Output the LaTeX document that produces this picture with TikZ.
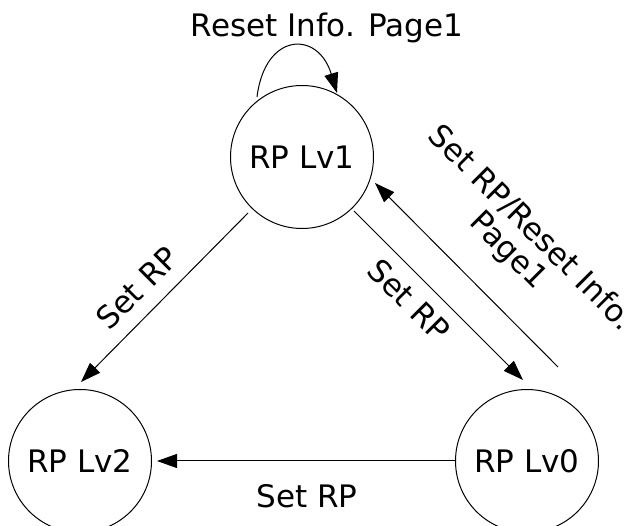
\documentclass[tikz,border=0pt]{standalone}
\usepackage{fontspec}
\setmainfont{DejaVu Sans}
\usetikzlibrary{arrows.meta,calc}
\begin{document}
\begin{tikzpicture}[x=1pt,y=-1pt,
  state/.style={draw,circle,minimum size=143pt,inner sep=0pt,line width=1pt,font=\fontsize{31}{32}\selectfont},
  edge/.style={line width=1pt,-{Triangle[length=20pt,width=14pt]}},
  lbl/.style={inner sep=0pt,font=\fontsize{31}{32}\selectfont,align=center}]
\useasboundingbox (0,0) rectangle (638,526);
\node[state] (lv1) at (302,157) {RP Lv1};
\node[state] (lv2) at (80,461) {RP Lv2};
\node[state] (lv0) at (527,461) {RP Lv0};
% connector end points
\coordinate (s0) at ($(lv1)+(-45,-60)$);
\coordinate (e0) at ($(lv1)+(35,-64)$);
\coordinate (a1) at ($(lv1)+(-54,56)$);
\coordinate (a2) at ($(lv2)+(1,-79)$);
\coordinate (b1) at ($(lv1)+(52,54)$);
\coordinate (b2) at ($(lv0)+(-4,-81)$);
\coordinate (c1) at ($(lv0)+(31,-94)$);
\coordinate (c2) at ($(lv1)+(73,26)$);
% connectors
\draw[edge] (s0) .. controls ($(lv1)+(-37,-125)$) and ($(lv1)+(16,-127)$) .. (e0);
\draw[edge] (a1) -- (a2);
\draw[edge] (b1) -- (b2);
\draw[edge] (c1) -- (c2);
\draw[edge,shorten >=5pt] (lv0) -- (lv2);
% labels
\node[lbl,anchor=base] (t1) at (327,37) {Reset Info. Page1};
\node[lbl,rotate=45] (t2) at (137,288) {Set RP};
\node[lbl,rotate=-45] (t3) at (409,300) {Set RP};
\node[lbl,rotate=-45] (t4) at (519,240) {Set RP/Reset Info.\\Page1};
\node[lbl,anchor=base] (t5) at (307,508) {Set RP};
\end{tikzpicture}
\end{document}
